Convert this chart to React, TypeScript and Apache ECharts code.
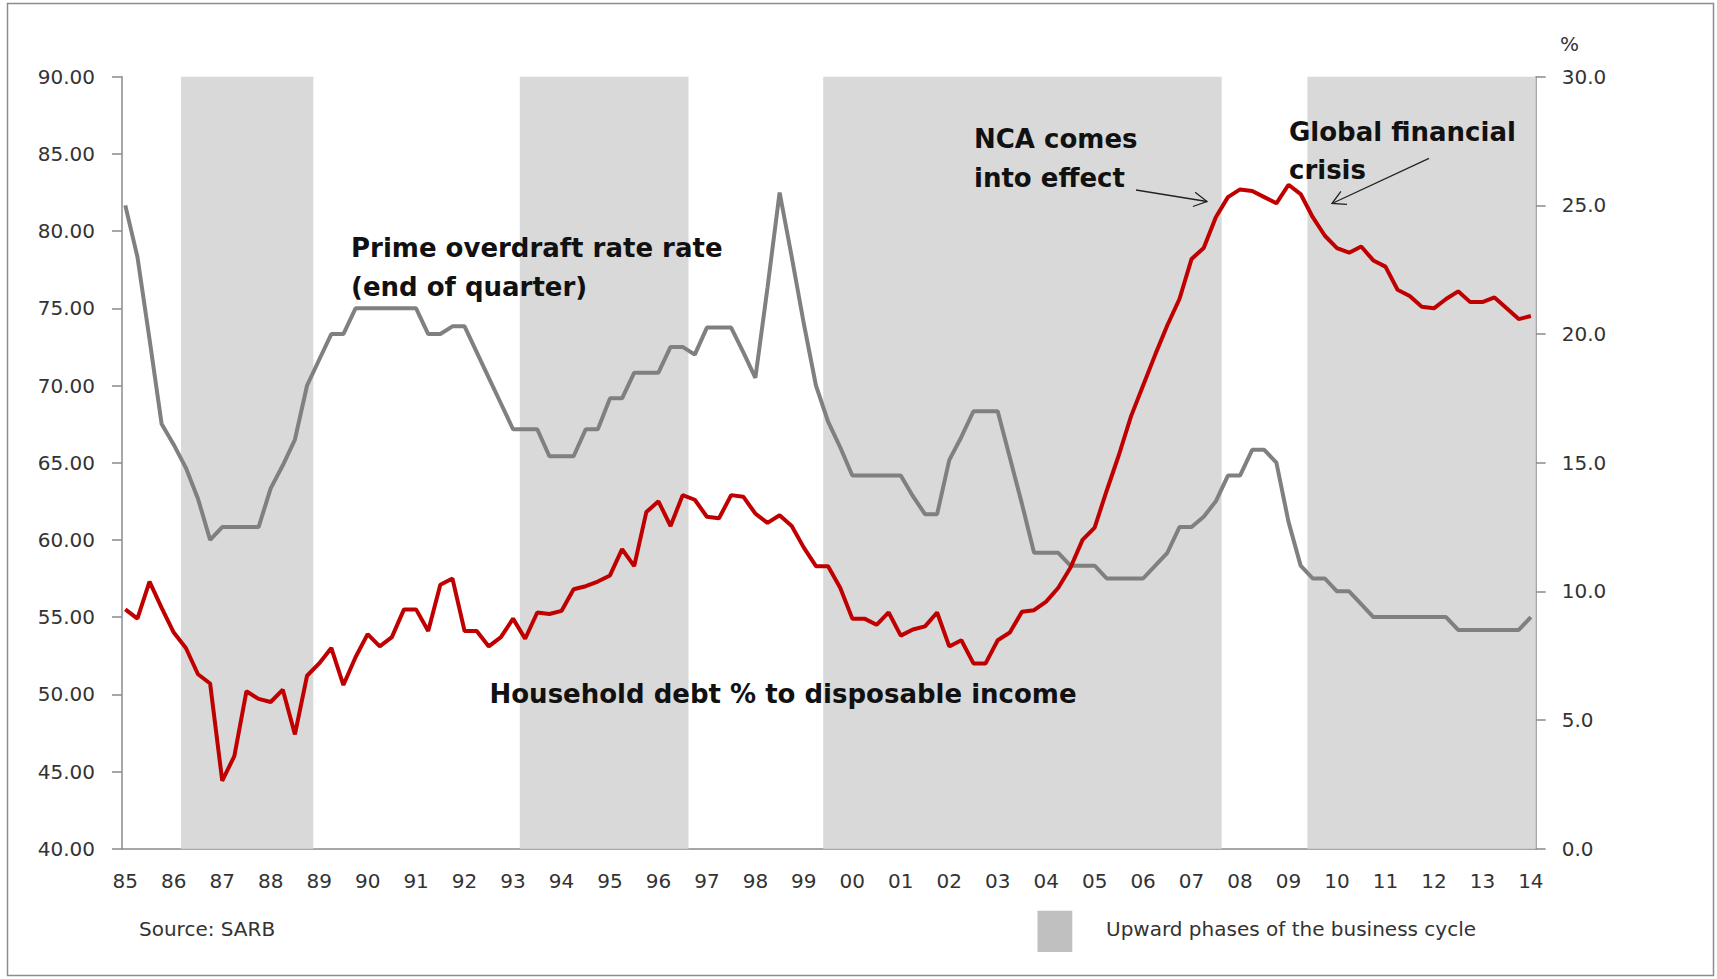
import React, { useEffect, useRef } from "react";
import * as echarts from "echarts";

// ---- Data (quarterly, 1985Q1 .. 2014Q1) ----
const startYear = 1985;
const quartersPerYear = 4;

// Household debt as % of disposable income (left axis)
const householdDebt = [
  55.5, 54.9, 57.3, 55.6, 54.0, 53.0, 51.3, 50.7,
  44.4, 46.0, 50.2, 49.7, 49.5, 50.3, 47.4, 51.2,
  52.0, 53.0, 50.6, 52.4, 53.9, 53.1, 53.7, 55.5,
  55.5, 54.1, 57.1, 57.5, 54.1, 54.1, 53.1, 53.7,
  54.9, 53.6, 55.3, 55.2, 55.4, 56.8, 57.0, 57.3,
  57.7, 59.4, 58.3, 61.8, 62.5, 60.9, 62.9, 62.6,
  61.5, 61.4, 62.9, 62.8, 61.7, 61.1, 61.6, 60.9,
  59.5, 58.3, 58.3, 56.9, 54.9, 54.9, 54.5, 55.3,
  53.8, 54.2, 54.4, 55.3, 53.1, 53.5, 52.0, 52.0,
  53.5, 54.0, 55.35, 55.45, 56.0, 56.9, 58.2, 60.0,
  60.8, 63.2, 65.5, 68.0, 70.0, 72.0, 73.9, 75.6,
  78.2, 78.9, 80.9, 82.2, 82.7, 82.6, 82.2, 81.8,
  83.0, 82.4, 80.9, 79.7, 78.9, 78.6, 79.0, 78.1,
  77.7, 76.2, 75.8, 75.1, 75.0, 75.6, 76.1, 75.4,
  75.4, 75.7, 75.0, 74.3, 74.5,
];

// Prime overdraft rate, end of quarter (right axis, %)
const primeRate = [
  25.0, 23.0, 19.8, 16.5, 15.7, 14.8, 13.6, 12.0,
  12.5, 12.5, 12.5, 12.5, 14.0, 14.9, 15.9, 18.0,
  19.0, 20.0, 20.0, 21.0, 21.0, 21.0, 21.0, 21.0,
  21.0, 20.0, 20.0, 20.3, 20.3, 19.3, 18.3, 17.3,
  16.3, 16.3, 16.3, 15.25, 15.25, 15.25, 16.3, 16.3,
  17.5, 17.5, 18.5, 18.5, 18.5, 19.5, 19.5, 19.2,
  20.25, 20.25, 20.25, 19.3, 18.3, 21.8, 25.5, 23.0,
  20.4, 18.0, 16.6, 15.6, 14.5, 14.5, 14.5, 14.5,
  14.5, 13.7, 13.0, 13.0, 15.1, 16.0, 17.0, 17.0,
  17.0, 15.2, 13.4, 11.5, 11.5, 11.5, 11.0, 11.0,
  11.0, 10.5, 10.5, 10.5, 10.5, 11.0, 11.5, 12.5,
  12.5, 12.9, 13.5, 14.5, 14.5, 15.5, 15.5, 15.0,
  12.7, 11.0, 10.5, 10.5, 10.0, 10.0, 9.5, 9.0,
  9.0, 9.0, 9.0, 9.0, 9.0, 9.0, 8.5, 8.5,
  8.5, 8.5, 8.5, 8.5, 9.0,
];

// Upward phases of the business cycle (start, end in fractional years)
const upwardPhases: [number, number][] = [
  [1986.15, 1988.88],
  [1993.14, 1996.62],
  [1999.4, 2007.62],
  [2009.39, 2014.1],
];

// X-axis tick labels (one per year)
const yearLabels = [
  "85", "86", "87", "88", "89", "90", "91", "92", "93", "94",
  "95", "96", "97", "98", "99", "00", "01", "02", "03", "04",
  "05", "06", "07", "08", "09", "10", "11", "12", "13", "14",
];

const leftAxisRange = { min: 40, max: 90, interval: 5 };
const rightAxisRange = { min: 0, max: 30, interval: 5 };

export default function App() {
  const ref = useRef<HTMLDivElement>(null);

  useEffect(() => {
    document.body.style.margin = "0";
    const chart = echarts.init(ref.current as HTMLDivElement, null, { renderer: "svg" });

    const font = "DejaVu Sans";
    const axisColor = "#8a8a8a";
    const labelColor = "#333333";
    const yearValues = yearLabels.map((_, k) => startYear + k);
    const toPoints = (vals: number[]) =>
      vals.map((v, i) => [startYear + i / quartersPerYear, v]);

    const arrow = (x1: number, y1: number, x2: number, y2: number) => {
      const ang = Math.atan2(y2 - y1, x2 - x1);
      const len = 15;
      const spread = 0.5;
      const a1 = ang + Math.PI - spread;
      const a2 = ang + Math.PI + spread;
      return {
        type: "group",
        z: 20,
        children: [
          {
            type: "line",
            z: 20,
            shape: { x1, y1, x2, y2 },
            style: { stroke: "#222", lineWidth: 1.3 },
          },
          {
            type: "polyline",
            z: 20,
            shape: {
              points: [
                [x2 + len * Math.cos(a1), y2 + len * Math.sin(a1)],
                [x2, y2],
                [x2 + len * Math.cos(a2), y2 + len * Math.sin(a2)],
              ],
            },
            style: { stroke: "#222", lineWidth: 1.3, fill: "none" },
          },
        ],
      };
    };

    const note = (text: string, x: number, y: number) => ({
      type: "text",
      z: 20,
      x,
      y,
      style: {
        text,
        fontFamily: font,
        fontSize: 26,
        fontWeight: "bold",
        fill: "#111",
        align: "left",
        verticalAlign: "middle",
      },
    });

    const plain = (text: string, x: number, y: number) => ({
      type: "text",
      z: 20,
      x,
      y,
      style: {
        text,
        fontFamily: font,
        fontSize: 20,
        fill: labelColor,
        align: "left",
        verticalAlign: "middle",
      },
    });

    chart.setOption({
      animation: false,
      backgroundColor: "#ffffff",
      textStyle: { fontFamily: font },
      grid: { left: 122, top: 76.7, width: 1413.7, height: 772 },
      xAxis: {
        type: "value",
        min: 1984.932,
        max: 2014.1,
        splitLine: { show: false },
        axisTick: { show: false },
        axisLine: { show: true, onZero: false, lineStyle: { color: axisColor, width: 1.5 } },
        axisLabel: {
          customValues: yearValues,
          formatter: (v: number) => {
            const k = Math.round(v - startYear);
            return Math.abs(v - startYear - k) < 1e-6 && yearLabels[k] ? yearLabels[k] : "";
          },
          margin: 22,
          fontSize: 20,
          color: labelColor,
          fontFamily: font,
        },
      },
      yAxis: [
        {
          type: "value",
          position: "left",
          ...leftAxisRange,
          splitLine: { show: false },
          axisLine: { show: true, lineStyle: { color: axisColor, width: 1.5 } },
          axisTick: { show: true, length: 10, lineStyle: { color: axisColor, width: 1.5 } },
          axisLabel: {
            formatter: (v: number) => v.toFixed(2),
            margin: 27,
            fontSize: 20,
            color: labelColor,
            fontFamily: font,
          },
        },
        {
          type: "value",
          position: "right",
          ...rightAxisRange,
          splitLine: { show: false },
          axisLine: { show: true, lineStyle: { color: axisColor, width: 1.5 } },
          axisTick: { show: true, length: 10, lineStyle: { color: axisColor, width: 1.5 } },
          axisLabel: {
            formatter: (v: number) => v.toFixed(1),
            margin: 26,
            fontSize: 20,
            color: labelColor,
            fontFamily: font,
          },
        },
      ],
      series: [
        {
          name: "Upward phases of the business cycle",
          type: "line",
          z: 1,
          data: [],
          markArea: {
            silent: true,
            itemStyle: { color: "#d9d9d9" },
            data: upwardPhases.map(([s, e]) => [{ xAxis: s }, { xAxis: e }]),
          },
        },
        {
          name: "Prime overdraft rate",
          type: "line",
          z: 3,
          yAxisIndex: 1,
          symbol: "none",
          data: toPoints(primeRate),
          lineStyle: { color: "#808080", width: 4 },
        },
        {
          name: "Household debt % to disposable income",
          type: "line",
          z: 4,
          yAxisIndex: 0,
          symbol: "none",
          data: toPoints(householdDebt),
          lineStyle: { color: "#c00000", width: 4 },
        },
      ],
      graphic: [
        {
          type: "rect",
          z: 20,
          silent: true,
          shape: { x: 7.5, y: 3.5, width: 1706, height: 972 },
          style: { fill: "none", stroke: "#8c8c8c", lineWidth: 1.5 },
        },
        note("Prime overdraft rate rate", 351, 248),
        note("(end of quarter)", 351, 287),
        note("Household debt % to disposable income", 489.5, 694),
        note("NCA comes", 974, 139),
        note("into effect", 974, 177.5),
        note("Global financial", 1289, 131.5),
        note("crisis", 1289, 170),
        arrow(1136, 190, 1207, 201.5),
        arrow(1429, 158.3, 1332, 203.5),
        plain("%", 1560, 43.5),
        plain("Source: SARB", 139, 929),
        {
          type: "rect",
          z: 20,
          shape: { x: 1037.5, y: 910.7, width: 34.8, height: 41.3 },
          style: { fill: "#c0c0c0" },
        },
        plain("Upward phases of the business cycle", 1106, 928.5),
      ],
    });

    return () => {
      chart.dispose();
    };
  }, []);

  return (
    <div
      ref={ref}
      style={{ position: "absolute", left: 0, top: 0, width: 1717, height: 979, background: "#fff" }}
    />
  );
}
